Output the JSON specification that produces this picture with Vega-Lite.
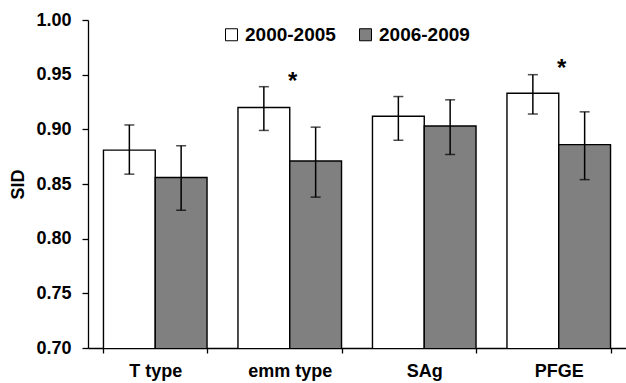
{
  "$schema": "https://vega.github.io/schema/vega-lite/v6.json",
  "width": 538,
  "height": 328,
  "autosize": {"type": "none"},
  "padding": {"left": 88, "top": 20, "right": 0, "bottom": 35},
  "background": "white",
  "config": {
    "view": {"stroke": null},
    "font": "Liberation Sans",
    "axis": {"grid": false, "domainColor": "black", "tickColor": "black", "labelColor": "black", "titleColor": "black", "labelFont": "Liberation Sans", "titleFont": "Liberation Sans", "labelFontWeight": "bold", "titleFontWeight": "bold", "domainWidth": 1.3, "tickWidth": 1.3}
  },
  "datasets": {
    "bars": [
      {"method": "T type", "period": "2000-2005", "sid": 0.881, "lo": 0.859, "hi": 0.904},
      {"method": "T type", "period": "2006-2009", "sid": 0.856, "lo": 0.826, "hi": 0.885},
      {"method": "emm type", "period": "2000-2005", "sid": 0.920, "lo": 0.899, "hi": 0.939},
      {"method": "emm type", "period": "2006-2009", "sid": 0.871, "lo": 0.838, "hi": 0.902},
      {"method": "SAg", "period": "2000-2005", "sid": 0.912, "lo": 0.890, "hi": 0.930},
      {"method": "SAg", "period": "2006-2009", "sid": 0.903, "lo": 0.877, "hi": 0.927},
      {"method": "PFGE", "period": "2000-2005", "sid": 0.933, "lo": 0.914, "hi": 0.950},
      {"method": "PFGE", "period": "2006-2009", "sid": 0.886, "lo": 0.854, "hi": 0.916}
    ],
    "stars": [
      {"method": "emm type", "y": 0.948, "label": "*"},
      {"method": "PFGE", "y": 0.960, "label": "*"}
    ]
  },
  "layer": [
    {
      "data": {"name": "bars"},
      "mark": {"type": "bar", "stroke": "black", "strokeWidth": 1.4, "clip": true},
      "encoding": {
        "x": {
          "field": "method", "type": "nominal",
          "sort": ["T type", "emm type", "SAg", "PFGE"],
          "scale": {"paddingInner": 0.23, "paddingOuter": 0.115},
          "axis": {"title": null, "labelAngle": 0, "labelFontSize": 18, "tickBand": "extent", "tickSize": 5, "labelPadding": 9}
        },
        "xOffset": {"field": "period", "type": "nominal", "scale": {"paddingInner": 0, "paddingOuter": 0}},
        "y": {
          "field": "sid", "type": "quantitative",
          "scale": {"domain": [0.7, 1.0], "nice": false, "zero": false},
          "axis": {"title": "SID", "values": [0.7, 0.75, 0.8, 0.85, 0.9, 0.95, 1.0], "format": ".2f", "labelFontSize": 18, "titleFontSize": 18, "tickSize": 6, "labelPadding": 11, "titlePadding": 8}
        },
        "fill": {
          "field": "period", "type": "nominal",
          "scale": {"domain": ["2000-2005", "2006-2009"], "range": ["white", "#808080"]},
          "legend": {"orient": "none", "legendX": 134, "legendY": 5, "direction": "horizontal", "title": null, "symbolType": "square", "symbolSize": 144, "symbolStrokeColor": "black", "symbolStrokeWidth": 1, "labelFontSize": 19, "labelFontWeight": "bold", "labelColor": "black", "labelOffset": 4, "columnPadding": 20}
        }
      }
    },
    {
      "data": {"name": "bars"},
      "mark": {"type": "rule", "color": "black", "strokeWidth": 1.5},
      "encoding": {
        "x": {"field": "method", "type": "nominal", "sort": ["T type", "emm type", "SAg", "PFGE"]},
        "xOffset": {"field": "period", "type": "nominal"},
        "y": {"field": "lo", "type": "quantitative"},
        "y2": {"field": "hi"}
      }
    },
    {
      "data": {"name": "bars"},
      "mark": {"type": "tick", "color": "black", "thickness": 1.5, "size": 10},
      "encoding": {
        "x": {"field": "method", "type": "nominal", "sort": ["T type", "emm type", "SAg", "PFGE"]},
        "xOffset": {"field": "period", "type": "nominal"},
        "y": {"field": "lo", "type": "quantitative"}
      }
    },
    {
      "data": {"name": "bars"},
      "mark": {"type": "tick", "color": "black", "thickness": 1.5, "size": 10},
      "encoding": {
        "x": {"field": "method", "type": "nominal", "sort": ["T type", "emm type", "SAg", "PFGE"]},
        "xOffset": {"field": "period", "type": "nominal"},
        "y": {"field": "hi", "type": "quantitative"}
      }
    },
    {
      "data": {"name": "stars"},
      "mark": {"type": "text", "fontSize": 24, "fontWeight": "bold", "color": "black", "baseline": "middle", "dx": 3, "dy": 5},
      "encoding": {
        "x": {"field": "method", "type": "nominal", "sort": ["T type", "emm type", "SAg", "PFGE"]},
        "y": {"field": "y", "type": "quantitative"},
        "text": {"field": "label"}
      }
    }
  ]
}
